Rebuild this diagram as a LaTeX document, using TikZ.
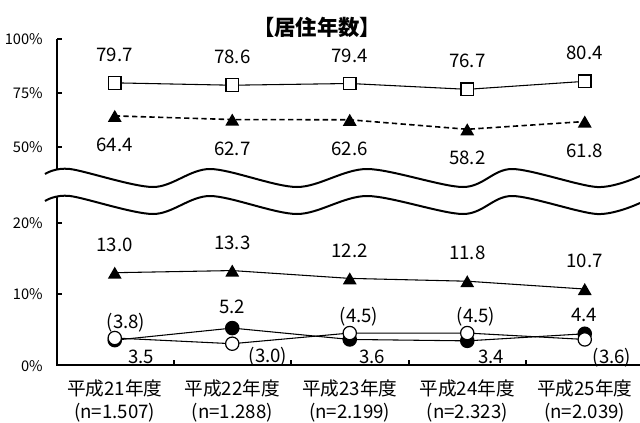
\documentclass[tikz,border=0pt]{standalone}
\usepackage{fontspec}
\setmainfont{Noto Sans CJK JP}
\usetikzlibrary{shapes.geometric}

\begin{document}
\begin{tikzpicture}[x=0.75pt, y=-0.75pt,
	sqmark/.style={rectangle, draw, fill=white, line width=0.9pt, minimum size=9.5pt, inner sep=0pt},
	trimark/.style={regular polygon, regular polygon sides=3, fill=black, minimum size=12pt, inner sep=0pt, yshift=-1.5pt},
	dotmark/.style={circle, draw, fill=black, line width=0.9pt, minimum size=10pt, inner sep=0pt},
	ringmark/.style={circle, draw, fill=white, line width=0.9pt, minimum size=10pt, inner sep=0pt},
	series/.style={line width=0.8pt},
	val/.style={font=\fontsize{14}{16}\selectfont, inner sep=0pt},
	ylab/.style={font=\fontsize{11}{13}\selectfont, anchor=east, inner sep=0pt},
	catlab/.style={font=\fontsize{14}{17.25}\selectfont, align=center, inner sep=0pt}]
	\useasboundingbox (0,0) rectangle (640,422);
	\node[font=\bfseries\fontsize{16}{18}\selectfont, inner sep=0pt] (title) at (317,27) {【居住年数】};
	% axes
	\draw[line width=2pt] (57,39) -- (57,365) -- (640,365);
	\foreach \y in {39,93,147,223,294}
		\draw[line width=1.5pt] (57,\y) -- (62,\y);
	\foreach \x in {173.5,291,408.5,526}
		\draw[line width=1.5pt] (\x,365) -- (\x,360);
	\foreach \t/\y in {100/39, 75/93, 50/147, 20/223, 10/294, 0/366}
		\node[ylab] (yl\t) at (43,\y) {\t\%};
	% break
	\foreach \s/\c/\w in {13.5/white/20.25pt, 0/black/1.5pt, 27/black/1.5pt}
		\draw[\c, line width=\w, shift={(0,\s)}] plot[smooth] coordinates {(45,174) (70,169) (153,187) (210,169) (297,187) (367,169) (463,187) (512,169) (597,187) (640,176)};
	% data points
	\foreach \v [count=\i] in {79.7,78.6,79.4,76.7,80.4}
		\coordinate (sq\i) at ({114.75+117.5*(\i-1)}, {255-2.16*\v});
	\foreach \v [count=\i] in {64.4,62.7,62.6,58.2,61.8}
		\coordinate (tu\i) at ({114.75+117.5*(\i-1)}, {255-2.16*\v});
	\foreach \v [count=\i] in {13.0,13.3,12.2,11.8,10.7}
		\coordinate (tl\i) at ({114.75+117.5*(\i-1)}, {365-7.1*\v});
	\foreach \v [count=\i] in {3.5,5.2,3.6,3.4,4.4}
		\coordinate (dt\i) at ({114.75+117.5*(\i-1)}, {365-7.1*\v});
	\foreach \v [count=\i] in {3.8,3.0,4.5,4.5,3.6}
		\coordinate (rg\i) at ({114.75+117.5*(\i-1)}, {365-7.1*\v});
	\draw[series] (sq1) -- (sq2) -- (sq3) -- (sq4) -- (sq5);
	\draw[series, line width=1.2pt, dash pattern=on 4pt off 2.5pt] (tu1) -- (tu2) -- (tu3) -- (tu4) -- (tu5);
	\draw[series] (tl1) -- (tl2) -- (tl3) -- (tl4) -- (tl5);
	\draw[series] (dt1) -- (dt2) -- (dt3) -- (dt4) -- (dt5);
	\draw[series] (rg1) -- (rg2) -- (rg3) -- (rg4) -- (rg5);
	\foreach \i in {1,...,5} {
		\node[sqmark] (sqm\i) at (sq\i) {};
		\node[trimark] (tum\i) at (tu\i) {};
		\node[trimark] (tlm\i) at (tl\i) {};
		\node[dotmark] (dtm\i) at (dt\i) {};
		\node[ringmark] (rgm\i) at (rg\i) {};
	}
	% values
	\foreach \v [count=\i] in {79.7,78.6,79.4,76.7,80.4}
		\node[val] (sqv\i) at ({114.75+117.5*(\i-1)}, {255-2.16*\v-28}) {\v};
	\foreach \v [count=\i] in {64.4,62.7,62.6,58.2,61.8}
		\node[val] (tuv\i) at ({114.75+117.5*(\i-1)}, {255-2.16*\v+29}) {\v};
	\foreach \v [count=\i] in {13.0,13.3,12.2,11.8,10.7}
		\node[val] (tlv\i) at ({114.75+117.5*(\i-1)}, {365-7.1*\v-28}) {\v};
	\foreach \v/\x/\y [count=\i] in {3.5/141/357, 5.2/232/306.5, 3.6/372/357, 3.4/491/357, 4.4/584/315}
		\node[val] (dtv\i) at (\x,\y) {\v};
	\foreach \v/\x/\y [count=\i] in {3.8/126/323, 3.0/268/357, 4.5/359/316.5, 4.5/476/316.5, 3.6/612/357.5}
		\node[val] (rgv\i) at (\x,\y) {(\v)};
	% categories
	\foreach \yr/\n [count=\i] in {21/1.507, 22/1.288, 23/2.199, 24/2.323, 25/2.039}
		\node[catlab] (cat\i) at ({114.75+117.5*(\i-1)}, 401) {平成\yr 年度\\(n=\n)};
\end{tikzpicture}
\end{document}
